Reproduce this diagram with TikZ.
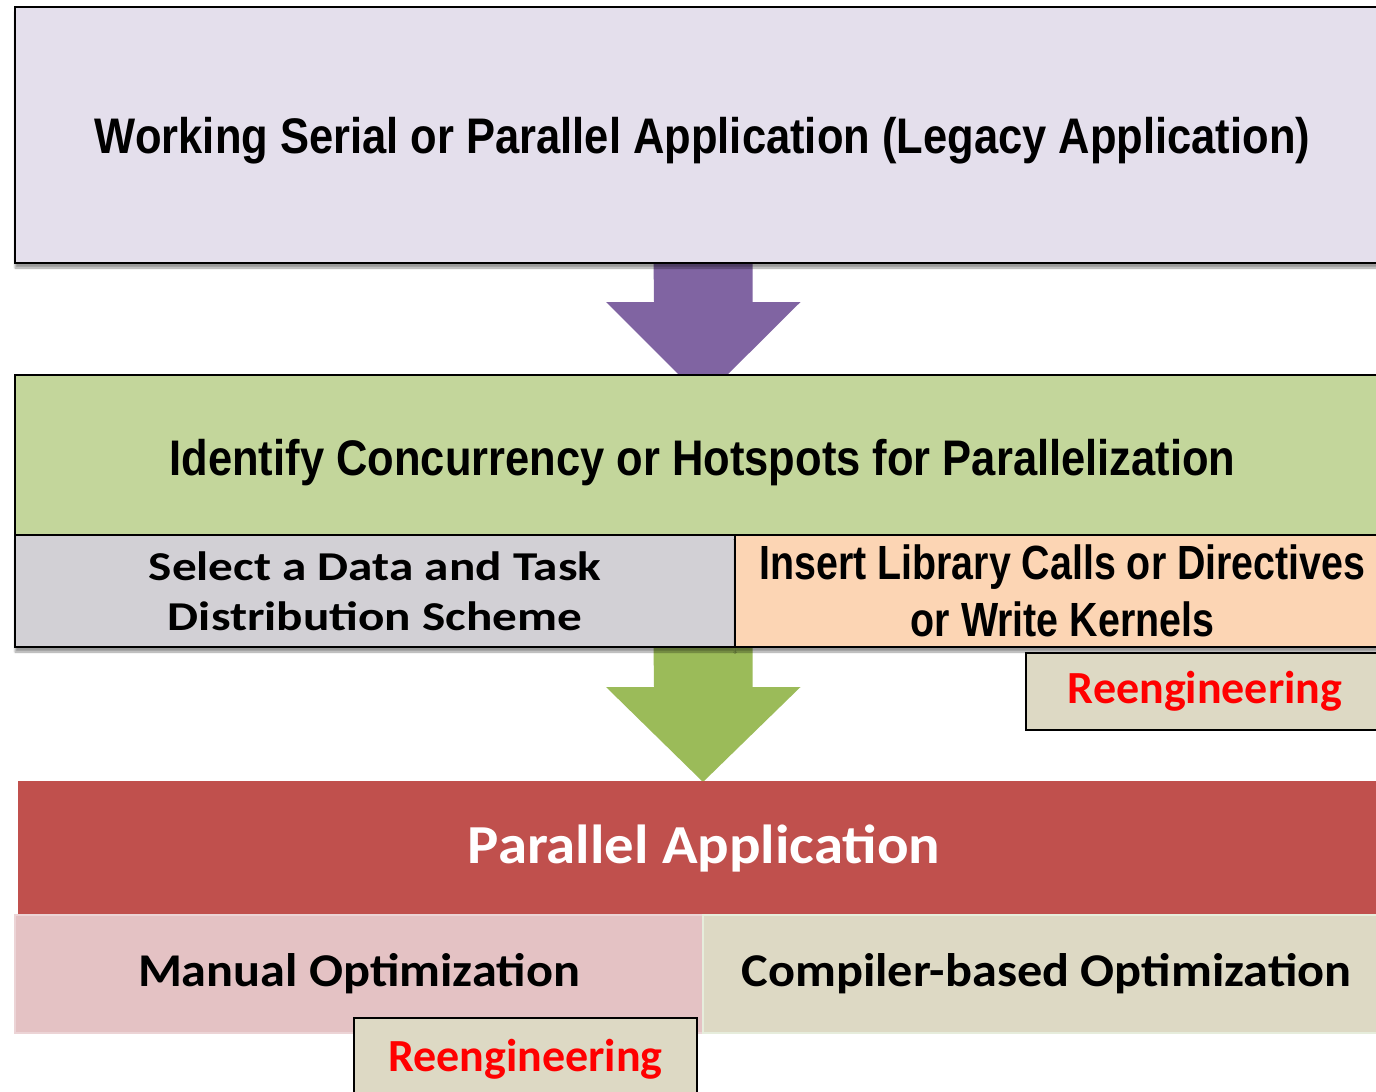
\documentclass[tikz,border=0pt]{standalone}
\usepackage{fontspec}
\setmainfont{Carlito}
\newfontfamily\narrowbf[FakeStretch=0.87]{Liberation Sans Bold}
\newfontfamily\narrowbfpeach[FakeStretch=0.82]{Liberation Sans Bold}
\newfontfamily\calbf{Carlito Bold}
\newfontfamily\calbfwide[FakeStretch=1.07]{Carlito Bold}
\newfontfamily\calbfwider[FakeStretch=1.20]{Carlito Bold}
\usetikzlibrary{calc,shadows.blur}

\definecolor{lavender}{HTML}{E4DFEC}
\definecolor{arrowpurple}{HTML}{8064A2}
\definecolor{stepgreen}{HTML}{C3D69B}
\definecolor{arrowgreen}{HTML}{9BBB59}
\definecolor{schemegray}{HTML}{D2D0D5}
\definecolor{peach}{HTML}{FCD5B4}
\definecolor{tan}{HTML}{DDD9C4}
\definecolor{brick}{HTML}{C0504D}
\definecolor{rose}{HTML}{E4C2C4}
\definecolor{paleedge}{HTML}{E6EDDC}

\tikzset{
  stage/.style={draw=black, line width=2.5pt, inner sep=0pt, anchor=center},
  softshadow/.style={blur shadow={shadow xshift=0pt, shadow yshift=-5pt,
      shadow blur steps=6, shadow opacity=40}},
  reeng/.style={draw=black, line width=2.8pt, fill=tan, inner sep=0pt,
      font=\calbf\fontsize{46}{54}\selectfont, text=red},
  flat/.style={inner sep=0pt, anchor=center},
}

\begin{document}
\begin{tikzpicture}[x=1pt, y=-1pt]
\useasboundingbox (0,0) rectangle (1376,1092);
\clip (0,0) rectangle (1376,1092);

% first stage arrow, under the legacy box and the analysis box
\coordinate (a1) at (703,258);
\fill[arrowpurple] ($(a1)+(-49.5,0)$) -- ++(99,0) -- ++(0,44) -- ++(48,0)
   -- ($(a1)+(0,141)$) -- ($(a1)+(-97,44)$) -- ++(48,0) -- cycle;

% legacy application
\node[stage, fill=lavender, softshadow, minimum width=1375pt, minimum height=256pt,
      text height=36pt, text depth=0pt,
      font=\narrowbf\fontsize{50}{60}\selectfont] (legacy) at (702.5,135)
      {Working Serial or Parallel Application (Legacy Application)};

% analysis step
\node[stage, fill=stepgreen, minimum width=1375pt, minimum height=160pt,
      text height=40pt, text depth=0pt,
      font=\narrowbf\fontsize{50}{60}\selectfont] (identify) at (702.5,455)
      {Identify Concurrency or Hotspots for Parallelization};

% second stage arrow
\coordinate (a2) at (703,645);
\fill[arrowgreen] ($(a2)+(-49.5,0)$) -- ++(99,0) -- ++(0,42) -- ++(48,0)
   -- ($(a2)+(0,137)$) -- ($(a2)+(-97,42)$) -- ++(48,0) -- cycle;

% distribution scheme and code insertion
\node[stage, fill=schemegray, softshadow, minimum width=720pt, minimum height=112pt,
      align=center, font=\calbfwider\fontsize{41}{50}\selectfont] (scheme) at (375,591)
      {Select a Data and Task\\Distribution Scheme};
\node[stage, fill=peach, softshadow, minimum width=655pt, minimum height=112pt,
      align=center, font=\narrowbfpeach\fontsize{48}{57}\selectfont] (insert) at (1062.5,591)
      {Insert Library Calls or Directives\\or Write Kernels};
\node[reeng, minimum width=358pt, minimum height=77pt] (reeng1) at (1205,691.5)
      {Reengineering};

% resulting parallel application
\node[flat, fill=brick, minimum width=1372pt, minimum height=134pt, text=white,
      font=\calbfwide\fontsize{55}{64}\selectfont] (parapp) at (704,848)
      {Parallel Application};
\node[flat, fill=rose, draw=rose!70!white, line width=1.5pt, minimum width=688pt,
      minimum height=118pt, font=\calbfwide\fontsize{47}{56}\selectfont] (manual) at (359,974)
      {Manual Optimization};
\node[flat, fill=tan, draw=paleedge, line width=2.5pt, minimum width=687pt,
      minimum height=118pt, font=\calbfwide\fontsize{47}{56}\selectfont] (compiler) at (1046.5,974)
      {Compiler-based Optimization};
\node[reeng, minimum width=343pt, minimum height=82pt] (reeng2) at (525.5,1059)
      {Reengineering};
\end{tikzpicture}
\end{document}
